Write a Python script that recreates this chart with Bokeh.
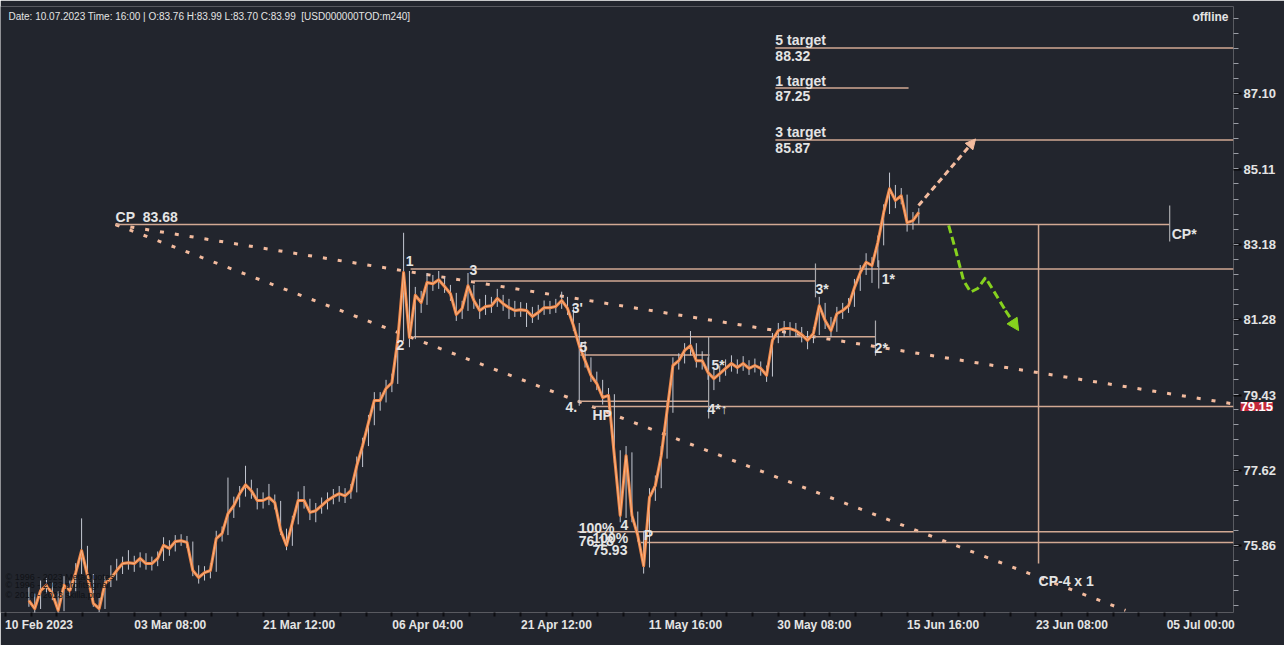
import numpy as np
from bokeh.plotting import figure
from bokeh.models import Range1d, FixedTicker, Label, Arrow, NormalHead, PrintfTickFormatter
from bokeh.embed import file_html
from bokeh.resources import INLINE

# ---------------- data (4h bars, sampled every 2 bars) ----------------
first_bar = 8
bar_step = 2
closes = [74.59, 74.41, 74.82, 74.94, 74.75, 74.37, 74.94, 74.82, 75.23, 75.74,
          75.17, 74.53, 74.41, 74.98, 75.10, 75.28, 75.44, 75.46, 75.44, 75.56,
          75.44, 75.44, 75.56, 75.86, 75.79, 75.95, 75.97, 75.93, 75.28, 75.12,
          75.23, 75.28, 76.02, 76.14, 76.60, 76.79, 77.07, 77.28, 77.14, 76.91,
          76.91, 76.98, 76.86, 76.21, 75.86, 76.39, 76.91, 76.91, 76.63, 76.67,
          76.79, 76.91, 77.00, 77.07, 77.02, 77.14, 77.73, 78.21, 78.76, 79.30,
          79.30, 79.59, 79.73, 80.77, 82.46, 80.84, 81.89, 81.71, 82.21, 82.18,
          82.28, 82.11, 81.93, 81.41, 81.56, 82.13, 81.76, 81.51, 81.61, 81.63,
          81.81, 81.68, 81.58, 81.51, 81.53, 81.51, 81.36, 81.46, 81.58, 81.58,
          81.61, 81.76, 81.56, 81.14, 80.64, 80.27, 79.91, 79.71, 79.37, 79.42,
          77.97, 76.56, 77.97, 76.56, 76.09, 75.39, 76.98, 77.26, 77.97, 79.05,
          80.15, 80.27, 80.52, 80.64, 80.27, 80.27, 79.98, 79.83, 79.95, 80.08,
          80.20, 80.10, 80.20, 80.08, 80.15, 80.08, 79.91, 80.77, 81.01, 81.06,
          81.06, 81.01, 80.91, 80.77, 80.94, 81.63, 81.26, 81.01, 81.43, 81.51,
          81.63, 82.08, 82.46, 82.72, 82.64, 83.22, 83.99, 84.60, 84.30, 84.42,
          83.73, 83.78, 83.99]
highs = [74.90, 74.75, 75.05, 75.10, 75.00, 74.80, 75.15, 75.05, 75.45, 76.49,
         75.85, 75.20, 74.65, 75.15, 75.40, 75.55, 75.60, 75.75, 75.62, 75.70,
         75.68, 75.60, 75.72, 76.05, 75.98, 76.10, 76.12, 76.08, 75.95, 75.40,
         75.38, 75.45, 76.20, 76.30, 77.45, 77.00, 77.25, 77.73, 77.40, 77.20,
         77.10, 77.30, 77.05, 76.90, 76.25, 76.55, 77.12, 77.25, 76.95, 76.85,
         76.98, 77.10, 77.18, 77.25, 77.20, 77.30, 77.95, 78.40, 78.95, 79.50,
         79.50, 79.80, 79.95, 81.00, 83.47, 82.50, 82.10, 82.00, 82.45, 82.40,
         82.50, 82.35, 82.15, 81.95, 81.75, 82.45, 82.15, 81.80, 81.90, 81.85,
         82.05, 81.90, 81.80, 81.75, 81.72, 81.70, 81.60, 81.65, 81.76, 81.75,
         81.80, 81.98, 81.85, 81.60, 81.20, 80.75, 80.35, 80.00, 79.80, 79.60,
         79.45, 78.10, 78.20, 78.05, 76.65, 76.20, 77.20, 77.50, 78.20, 79.25,
         80.35, 80.45, 80.70, 81.00, 80.70, 80.50, 80.35, 80.05, 80.15, 80.30,
         80.40, 80.30, 80.38, 80.28, 80.32, 80.25, 80.15, 80.95, 81.20, 81.25,
         81.22, 81.20, 81.10, 81.00, 81.10, 81.85, 81.70, 81.35, 81.60, 81.70,
         81.82, 82.30, 82.65, 82.95, 82.85, 83.40, 84.20, 85.02, 84.70, 84.62,
         84.45, 84.00, 84.10]
lows = [74.45, 74.30, 74.40, 74.75, 74.60, 74.30, 74.35, 74.70, 74.80, 75.20,
        75.05, 74.45, 74.33, 74.40, 74.90, 75.05, 75.20, 75.30, 75.25, 75.35,
        75.30, 75.28, 75.38, 75.50, 75.62, 75.72, 75.85, 75.80, 75.15, 74.98,
        75.05, 75.10, 75.25, 75.95, 76.10, 76.50, 76.75, 77.00, 76.95, 76.70,
        76.72, 76.80, 76.70, 76.10, 75.75, 75.85, 76.35, 76.72, 76.45, 76.40,
        76.60, 76.70, 76.82, 76.88, 76.85, 76.95, 77.10, 77.70, 78.20, 78.70,
        79.05, 79.25, 79.50, 79.70, 80.75, 80.60, 80.80, 81.45, 81.65, 82.00,
        82.05, 81.95, 81.75, 81.25, 81.30, 81.50, 81.55, 81.30, 81.40, 81.45,
        81.60, 81.50, 81.30, 81.35, 81.35, 81.10, 81.20, 81.28, 81.40, 81.42,
        81.45, 81.55, 81.40, 81.00, 79.17, 80.10, 79.75, 79.55, 79.20, 79.10,
        77.80, 76.40, 76.50, 76.40, 75.95, 75.21, 75.35, 76.90, 77.20, 77.90,
        79.00, 80.05, 80.20, 80.40, 80.10, 80.05, 79.80, 79.55, 79.75, 79.90,
        80.00, 79.95, 80.02, 79.92, 79.98, 79.90, 79.75, 79.88, 80.70, 80.85,
        80.88, 80.85, 80.72, 80.55, 80.70, 80.90, 81.05, 80.85, 80.98, 81.30,
        81.45, 81.60, 82.00, 82.40, 82.20, 82.60, 83.15, 83.95, 84.10, 84.20,
        83.50, 83.55, 83.70]

time_ticks = [0, 44, 88, 132, 176, 220, 264, 308, 352, 396]
time_labels = ["10 Feb 2023", "03 Mar 08:00", "21 Mar 12:00", "06 Apr 04:00", "21 Apr 12:00",
               "11 May 16:00", "30 May 08:00", "15 Jun 16:00", "23 Jun 08:00", "05 Jul 00:00"]
price_ticks = [75.86, 77.62, 79.43, 81.28, 83.18, 85.11, 87.10]

# horizontal levels: price, from bar, to bar
level_prices = [88.32, 87.25, 85.87, 83.68, 82.55, 82.25, 80.86, 80.41, 79.28, 79.15, 76.18, 75.93]
level_from = [263.0, 263.0, 263.0, 37.6, 138.4, 159.9, 139.4, 196.4, 195.4, 200.5, 195.4, 217.0]
level_to = [419.5, 308.5, 419.5, 397.7, 419.5, 276.7, 297.2, 240.5, 240.2, 419.5, 419.5, 419.5]

# short vertical markers (grey): bar, price top, price bottom
mark_bar = [240.2, 276.7, 297.2, 298.3, 397.7]
mark_top = [80.86, 82.69, 81.26, 82.77, 84.17]
mark_bot = [78.86, 81.84, 80.39, 82.06, 83.25]

# CP-4 x 1 time line
cp4_bar = 352.9
cp4_top = 83.68
cp4_bot = 75.44

# dotted fan lines from CP
fan_x0 = [37.6, 37.6]
fan_y0 = [83.68, 83.68]
fan_x1 = [420.6, 382.6]
fan_y1 = [79.20, 74.37]

# forecast arrows
up_arrow = (311.9, 84.17, 331.4, 85.90)
green_x = [322.2, 324.6, 327.3, 329.7, 332.1, 334.8, 337.5, 341.6, 346.1]
green_y = [83.66, 83.02, 82.26, 81.97, 82.06, 82.33, 82.01, 81.51, 81.01]

# annotation texts: text, bar, price (top-left)
NB = "\u00a0"
ann_text = ["CP" + NB + NB + "83.68", "1", "2", "3", "3'", "5", "4.", "HP", "5*", "4*\u2191", "3*", "1*", "2*",
            "100%", "4", "100%", "P", "76.18", "75.93", "CP-4" + NB + "x" + NB + "1", "CP*"]
ann_bar = [37.6, 136.7, 133.6, 158.5, 193.4, 196.1, 191.3, 200.5, 241.2, 239.8, 276.7, 299.3, 296.9,
           195.8, 210.1, 200.5, 218.0, 195.8, 200.5, 352.9, 398.4]
ann_price = [84.07, 82.87, 80.77, 82.64, 81.76, 80.72, 79.25, 79.13, 80.37, 79.28, 82.25, 82.49, 80.77,
             76.46, 76.46, 76.21, 76.28, 76.09, 75.88, 75.23, 83.65]

# target captions (baseline prices)
target_text = ["5 target", "88.32", "1 target", "87.25", "3 target", "85.87"]
target_bar = 263.0
target_price = [88.53, 88.10, 87.44, 87.04, 86.09, 85.67]

header = "Date: 10.07.2023 Time: 16:00 | O:83.76 H:83.99 L:83.70 C:83.99" + NB + NB + "[USD000000TOD:m240]"
copyright_lines = ["\u00a9 1996 - 2023 MetaQuotes", "\u00a9 1996 - 2023 profitsignal", "\u00a9 2010 - 2023 skilla.pro"]
copyright_prices = [75.14, 74.94, 74.73]
last_price = 79.15

# ---------------- styling ----------------
BG = "#22252d"
TXT = "#e4e4e4"
LEVEL = "#d2a993"
FAN = "#f3bb9e"
ORANGE = "#ee8546"
FONT = "Liberation Sans"
BARS_PER_PX = 1 / 2.927

bars = first_bar + bar_step * np.arange(len(closes))

p = figure(width=1284, height=645, x_range=Range1d(-1.7, 419.5), y_range=Range1d(74.32, 89.45),
           y_axis_type="log", y_axis_location="right", output_backend="svg", toolbar_location=None,
           background_fill_color=BG, border_fill_color=BG,
           min_border_left=0, min_border_top=6, min_border_right=51, min_border_bottom=33)
p.outline_line_color = None
p.grid.visible = False

# axes: MT4 puts the date label to the right of its bar, so the (centred) label
# is shifted by half its width
half_w = [33.5 * BARS_PER_PX] + [36.0 * BARS_PER_PX] * (len(time_ticks) - 1)
label_pos = [t + h for t, h in zip(time_ticks, half_w)]
p.xaxis.ticker = FixedTicker(ticks=label_pos, minor_ticks=[round(k * 8.8, 1) for k in range(49)])
p.xaxis.major_label_overrides = {pos: l for pos, l in zip(label_pos, time_labels)}
p.xaxis.axis_line_color = None
p.xaxis.major_tick_line_color = None
p.xaxis.minor_tick_line_color = "#0c0d11"
p.xaxis.major_tick_out = 4
p.xaxis.major_tick_in = 0
p.xaxis.minor_tick_out = 4
p.xaxis.minor_tick_in = 0
p.xaxis.minor_tick_line_width = 2
p.xaxis.major_label_standoff = 1
p.xaxis.major_label_text_color = TXT
p.xaxis.major_label_text_font = FONT
p.xaxis.major_label_text_font_size = "12px"
p.xaxis.major_label_text_font_style = "bold"

r = (price_ticks[-1] / price_ticks[0]) ** (1 / 30)
minor_prices = [price_ticks[0] * r ** k for k in range(-8, 38)]
p.yaxis.ticker = FixedTicker(ticks=price_ticks, minor_ticks=minor_prices)
p.yaxis.formatter = PrintfTickFormatter(format="%.2f")
p.yaxis.axis_line_color = None
p.yaxis.major_tick_line_color = "#08090b"
p.yaxis.major_tick_line_width = 2
p.yaxis.major_tick_out = 8
p.yaxis.major_tick_in = 0
p.yaxis.minor_tick_line_color = "#9a9da5"
p.yaxis.minor_tick_out = 5
p.yaxis.minor_tick_in = 0
p.yaxis.major_label_standoff = 2
p.yaxis.major_label_text_color = TXT
p.yaxis.major_label_text_font = FONT
p.yaxis.major_label_text_font_size = "13px"
p.yaxis.major_label_text_font_style = "bold"

# fan lines
p.segment(fan_x0, fan_y0, fan_x1, fan_y1, line_color=FAN, line_width=3, line_dash="4 11")

# levels
p.segment(level_from, level_prices, level_to, level_prices, line_color=LEVEL, line_width=1.5)
p.segment(mark_bar, mark_top, mark_bar, mark_bot, line_color="#a9a9ad", line_width=1.2)
p.segment([cp4_bar], [cp4_top], [cp4_bar], [cp4_bot], line_color=LEVEL, line_width=1.5)

# price
p.segment(bars, lows, bars, highs, line_color="#c4c8d2", line_width=1)
p.line(bars, closes, line_color=ORANGE, line_width=3, line_join="round")
p.line(bars, closes, line_color="#f8b486", line_width=1, line_join="round")

# arrows
p.add_layout(Arrow(end=NormalHead(size=10, fill_color=FAN, line_color=FAN),
                   x_start=up_arrow[0], y_start=up_arrow[1], x_end=up_arrow[2], y_end=up_arrow[3],
                   line_color=FAN, line_width=3, line_dash="6 4"))
GREEN = "#86d11e"
p.line(green_x[:-1], green_y[:-1], line_color=GREEN, line_width=3, line_dash="8 4")
p.add_layout(Arrow(end=NormalHead(size=12, fill_color=GREEN, line_color=GREEN),
                   x_start=green_x[-2], y_start=green_y[-2], x_end=green_x[-1], y_end=green_y[-1],
                   line_color=GREEN, line_width=3, line_dash="8 4"))

# texts
for t, bx, py in zip(ann_text, ann_bar, ann_price):
    p.add_layout(Label(x=bx, y=py, text=t, text_color=TXT, text_font=FONT, text_font_size="14px",
                       text_font_style="bold", text_align="left", text_baseline="top"))
for t, py in zip(target_text, target_price):
    p.add_layout(Label(x=target_bar, y=py, text=t, text_color=TXT, text_font=FONT, text_font_size="14px",
                       text_font_style="bold", text_align="left", text_baseline="alphabetic"))

p.add_layout(Label(x=8, x_units="screen", y=89.17, text=header, text_color=TXT, text_font=FONT,
                   text_font_size="10px", text_align="left", text_baseline="middle"))
p.add_layout(Label(x=1192, x_units="screen", y=89.17, text="offline", text_color=TXT, text_font=FONT,
                   text_font_size="12px", text_font_style="bold", text_align="left", text_baseline="middle"))
for line, py in zip(copyright_lines, copyright_prices):
    p.add_layout(Label(x=5, x_units="screen", y=py, text=line, text_color="#101216", text_font=FONT,
                       text_font_size="9px", text_align="left", text_baseline="middle"))

# current price tag on the price scale (hosted in the bottom panel so it is not clipped to the frame)
p.add_layout(Label(x=1240, x_units="screen", y=last_price, text="79.15", text_color="white", text_font=FONT,
                   text_font_size="13px", text_font_style="bold", text_align="left", text_baseline="middle",
                   background_fill_color="#c4283a"), "below")

open("out.html", "w").write(file_html(p, INLINE))
